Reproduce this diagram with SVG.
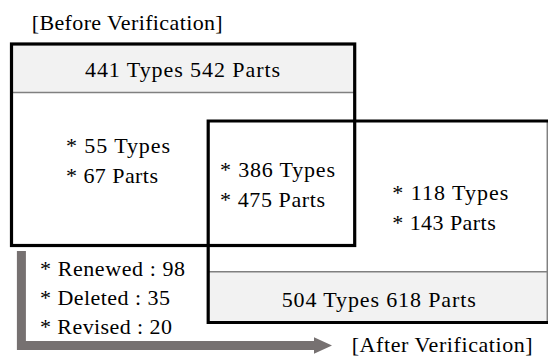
<svg xmlns="http://www.w3.org/2000/svg" width="548" height="359" viewBox="0 0 548 359">
  <style>
    text { font-family: "Liberation Serif", Tinos, "Times New Roman", Times, "DejaVu Serif", "Noto Serif", serif; font-size: 22px; fill: #000; }
    .band { fill: #f2f2f2; stroke: none; }
    .sep { stroke: #808080; stroke-width: 1.5; fill: none; }
    .frame { fill: none; stroke: #000; stroke-width: 3.2; }
    .arrow { fill: none; stroke: #767171; stroke-width: 9; stroke-linejoin: miter; }
    .head { fill: #767171; }
  </style>
  <rect x="0" y="0" width="548" height="359" fill="#fff"/>

  <text id="label-before" x="31.7" y="29.5" textLength="191" lengthAdjust="spacing">[Before Verification]</text>

  <g id="before">
    <rect class="band" x="11.5" y="44" width="343" height="48.5"/>
    <line class="sep" x1="11.5" y1="92.5" x2="354.5" y2="92.5"/>
    <text x="85" y="76.5" textLength="195" lengthAdjust="spacing">441 Types 542 Parts</text>
    <text x="66" y="152.7" textLength="104" lengthAdjust="spacing">* 55 Types</text>
    <text x="66" y="182.7" textLength="92" lengthAdjust="spacing">* 67 Parts</text>
  </g>

  <g id="after">
    <rect class="band" x="208" y="271.7" width="340" height="50.8"/>
    <line class="sep" x1="208" y1="271.7" x2="548" y2="271.7"/>
    <line class="sep" x1="547.3" y1="121" x2="547.3" y2="322.5"/>
    <text x="281.7" y="306.5" textLength="194" lengthAdjust="spacing">504 Types 618 Parts</text>
    <text x="392.3" y="200" textLength="116" lengthAdjust="spacing">* 118 Types</text>
    <text x="392.3" y="230" textLength="103.4" lengthAdjust="spacing">* 143 Parts</text>
  </g>

  <g id="overlap">
    <text x="220" y="176.5" textLength="115" lengthAdjust="spacing">* 386 Types</text>
    <text x="220" y="206.7" textLength="105" lengthAdjust="spacing">* 475 Parts</text>
  </g>

  <g id="frames">
    <rect class="frame" x="11.5" y="44" width="343.2" height="201.5"/>
    <path class="frame" d="M549 121 H208.2 V322.5 H549"/>
  </g>

  <g id="connectors">
    <path class="arrow" d="M21.4 251 V345.5 H316"/>
    <polygon class="head" points="314,337.3 332,345.5 314,353.7"/>
  </g>

  <g id="changes">
    <text x="40" y="275.5" textLength="145" lengthAdjust="spacing">* Renewed : 98</text>
    <text x="40" y="304.5" textLength="130" lengthAdjust="spacing">* Deleted : 35</text>
    <text x="40" y="333.5" textLength="132" lengthAdjust="spacing">* Revised : 20</text>
  </g>

  <text id="label-after" x="351.7" y="351.5" textLength="181" lengthAdjust="spacing">[After Verification]</text>
</svg>
